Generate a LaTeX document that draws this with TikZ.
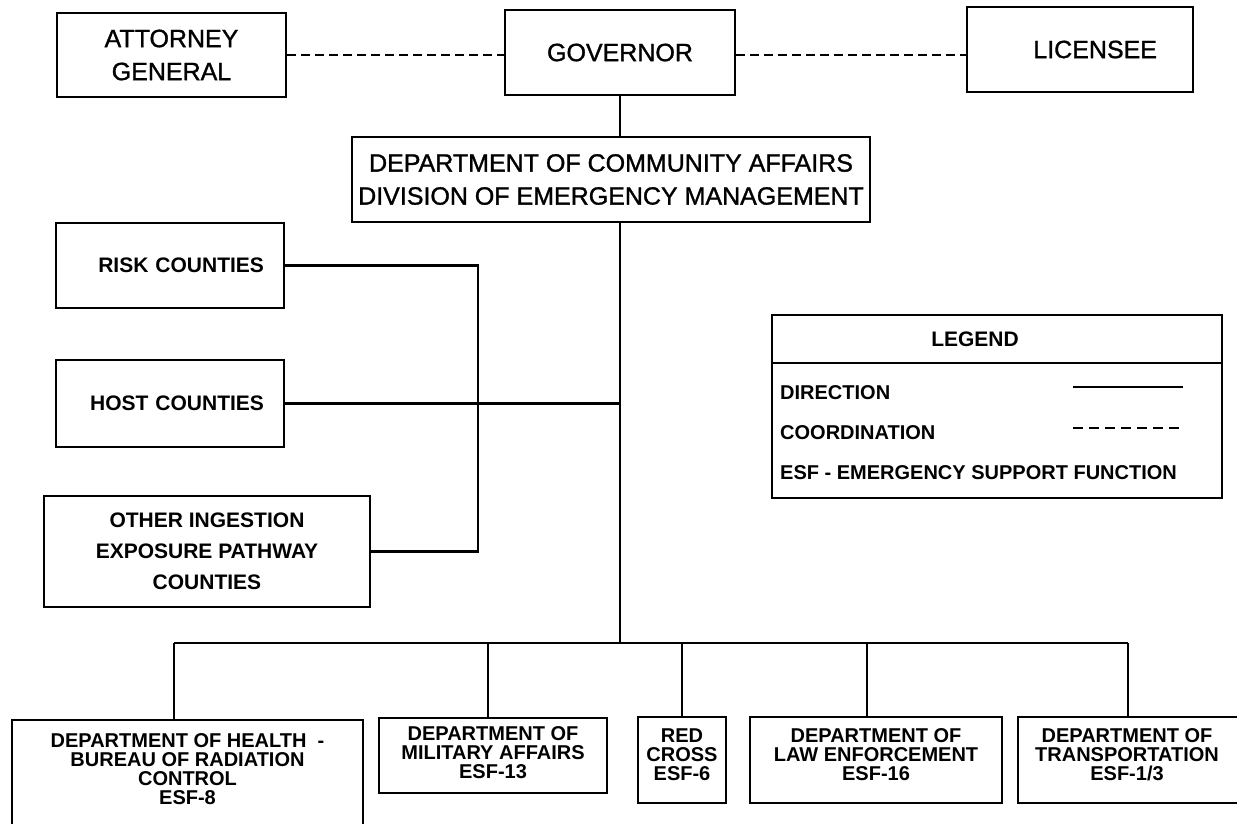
\documentclass[tikz,border=0pt]{standalone}
\usepackage{fontspec}
\setmainfont{Liberation Sans}
\newfontfamily\medfont[FakeBold=1.2]{Liberation Sans}
\begin{document}
\begin{tikzpicture}[x=1pt,y=-1pt,
  box/.style={draw, line width=2.5pt, inner sep=0pt, align=center},
  dir/.style={line width=2.5pt},
  coord/.style={line width=2.5pt, dash pattern=on 9pt off 5pt},
  lcoord/.style={line width=2.5pt, dash pattern=on 10pt off 6pt},
  big/.style={font=\medfont\fontsize{25}{33}\selectfont},
  mid/.style={font=\bfseries\fontsize{21}{31}\selectfont},
  small/.style={font=\bfseries\fontsize{20}{19}\selectfont, align=center, inner sep=0pt},
  lbl/.style={font=\bfseries\fontsize{20}{24}\selectfont, anchor=west, inner sep=0pt},
]
\useasboundingbox (0,0) rectangle (1237,824);
\clip (0,0) rectangle (1237,824);

% top row
\node[box, big, minimum width=229pt, minimum height=84pt] (ag) at (171.5,55) {ATTORNEY\\GENERAL};
\node[box, big, minimum width=230pt, minimum height=85pt] (gov) at (620,52.5) {\raisebox{-4pt}{GOVERNOR}};
\node[box, big, minimum width=226pt, minimum height=85pt, text width=154pt, align=right] (lic) at (1080,49.5) {LICENSEE};
\coordinate (dl) at (0,55);
\draw[coord] (ag.east |- dl) -- (gov.west |- dl);
\draw[coord] (gov.east |- dl) -- (lic.west |- dl);

\node[box, big, minimum width=518pt, minimum height=85pt] (dca) at (611,179.5)
  {DEPARTMENT OF COMMUNITY AFFAIRS\\DIVISION OF EMERGENCY MANAGEMENT};

% counties
\node[box, mid, minimum width=228pt, minimum height=85pt, text width=188pt, align=right] (risk) at (170,265.5) {RISK COUNTIES};
\node[box, mid, minimum width=228pt, minimum height=87pt, text width=188pt, align=right] (host) at (170,403.5) {HOST COUNTIES};
\node[box, mid, minimum width=326pt, minimum height=111pt] (oth) at (207,551.5)
  {OTHER INGESTION\\EXPOSURE PATHWAY\\COUNTIES};

% legend
\node[box, minimum width=450pt, minimum height=183pt] (leg) at (997,406.5) {};
\coordinate (dv) at (0,363);
\draw[dir] (leg.west |- dv) -- (leg.east |- dv);
\node[font=\bfseries\fontsize{21}{24}\selectfont, inner sep=0pt] (legt) at (975,339) {LEGEND};
\node[lbl] (ldir) at (780,393) {DIRECTION};
\node[lbl] (lcoo) at (780,433) {COORDINATION};
\node[lbl] (lesf) at (780,473) {ESF - EMERGENCY SUPPORT FUNCTION};
\coordinate (s1a) at (1073,387); \coordinate (s1b) at (1183,387);
\coordinate (s2a) at (1073,428); \coordinate (s2b) at (1183,428);
\draw[dir] (s1a) -- (s1b);
\draw[lcoord] (s2a) -- (s2b);

% bottom boxes
\node[box, minimum width=351pt, minimum height=115pt] (hea) at (187.5,777.5) {};
\node[small] (heat) at (187.5,769) {DEPARTMENT OF HEALTH \ -\\BUREAU OF RADIATION\\CONTROL\\ESF-8};
\node[box, minimum width=228pt, minimum height=75pt] (mil) at (493,755.5) {};
\node[small] (milt) at (493,753) {DEPARTMENT OF\\MILITARY AFFAIRS\\ESF-13};
\node[box, minimum width=88pt, minimum height=86pt] (rc) at (682,760) {};
\node[small] (rct) at (682,755) {RED\\CROSS\\ESF-6};
\node[box, minimum width=252pt, minimum height=86pt] (law) at (876,760) {};
\node[small] (lawt) at (876,755) {DEPARTMENT OF\\LAW ENFORCEMENT\\ESF-16};
\node[box, minimum width=240pt, minimum height=86pt] (tra) at (1138,760) {};
\node[small] (trat) at (1127,755) {DEPARTMENT OF\\TRANSPORTATION\\ESF-1/3};

% direction lines
\coordinate (bus) at (620,643);
\coordinate (bl) at (174,643);
\coordinate (br) at (1128,643);
\coordinate (jx) at (478,0);
\draw[dir] (gov.south) -- (gov.south |- dca.north);
\draw[dir] (gov.south |- dca.south) -- (bus);
\draw[dir] (host.east) -- (host.east -| bus);
\draw[dir] (risk.east) -- (risk.east -| jx) -- (jx |- oth.east) -- (oth.east);
\draw[dir] (bl) -- (br);
\draw[dir] (bl) -- (bl |- hea.north);
\draw[dir] (mil.north -| 488,0) -- (bus -| 488,0);
\draw[dir] (rc.north) -- (rc.north |- bus);
\draw[dir] (law.north -| 867,0) -- (bus -| 867,0);
\draw[dir] (br) -- (br |- tra.north);
\end{tikzpicture}
\end{document}
